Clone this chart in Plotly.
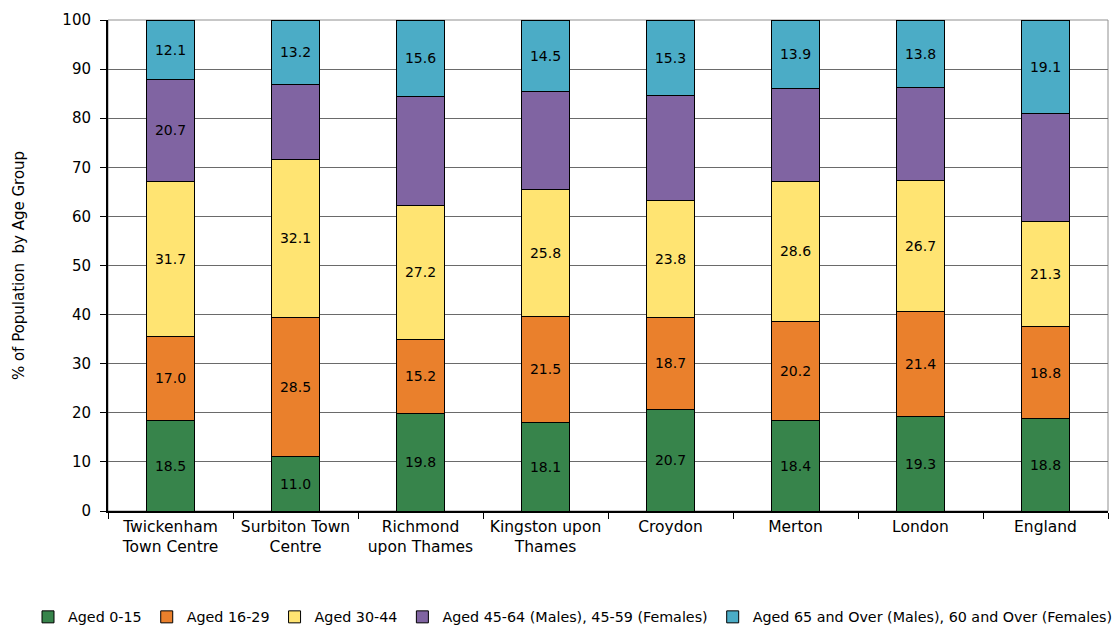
import plotly.graph_objects as go

# Age structure by area (% of population)
areas = [
    "Twickenham<br>Town Centre",
    "Surbiton Town<br>Centre",
    "Richmond<br>upon Thames",
    "Kingston upon<br>Thames",
    "Croydon",
    "Merton",
    "London",
    "England",
]

aged_0_15 = [18.5, 11.0, 19.8, 18.1, 20.7, 18.4, 19.3, 18.8]
aged_16_29 = [17.0, 28.5, 15.2, 21.5, 18.7, 20.2, 21.4, 18.8]
aged_30_44 = [31.7, 32.1, 27.2, 25.8, 23.8, 28.6, 26.7, 21.3]
aged_45_64 = [20.7, 15.2, 22.2, 20.1, 21.5, 18.9, 18.8, 22.0]
aged_65_over = [12.1, 13.2, 15.6, 14.5, 15.3, 13.9, 13.8, 19.1]

# which series carry value labels on every bar
labelled = {
    "Aged 0-15": True,
    "Aged 16-29": True,
    "Aged 30-44": True,
    "Aged 45-64 (Males), 45-59 (Females)": False,
    "Aged 65 and Over (Males), 60 and Over (Females)": True,
}

series = [
    ("Aged 0-15", aged_0_15, "#37844b"),
    ("Aged 16-29", aged_16_29, "#ea802c"),
    ("Aged 30-44", aged_30_44, "#ffe472"),
    ("Aged 45-64 (Males), 45-59 (Females)", aged_45_64, "#8064a2"),
    ("Aged 65 and Over (Males), 60 and Over (Females)", aged_65_over, "#4bacc6"),
]

FONT = "DejaVu Sans"

fig = go.Figure()
for name, vals, colour in series:
    if labelled[name]:
        text = [f"{v:.1f}" for v in vals]
    else:
        # only the first area shows this band's value
        text = [f"{vals[0]:.1f}"] + [""] * (len(vals) - 1)
    fig.add_trace(
        go.Bar(
            name=name,
            x=areas,
            y=vals,
            text=text,
            textposition="inside",
            insidetextanchor="middle",
            textangle=0,
            textfont=dict(family=FONT, size=14, color="#000000"),
            marker=dict(color=colour, line=dict(color="#000000", width=1)),
            hoverinfo="name+y",
        )
    )

fig.update_layout(
    barmode="stack",
    bargap=0.616,
    width=1112,
    height=626,
    margin=dict(l=108, r=4, t=20, b=115, autoexpand=False),
    plot_bgcolor="#ffffff",
    paper_bgcolor="#ffffff",
    font=dict(family=FONT, size=14, color="#000000"),
    uniformtext=dict(minsize=8, mode=False),
    showlegend=True,
    # legend sits below the plot, starting in the left margin so it may span
    # the full width without wrapping
    legend=dict(
        orientation="h",
        xref="paper",
        yref="paper",
        x=-0.08,
        xanchor="left",
        y=-0.216,
        yanchor="middle",
        font=dict(family=FONT, size=14.3, color="#000000"),
        itemwidth=30,
        tracegroupgap=0,
        traceorder="normal",
    ),
    xaxis=dict(
        showline=True,
        linecolor="#000000",
        linewidth=2,
        ticks="outside",
        tickson="boundaries",
        ticklen=6,
        tickcolor="#000000",
        tickfont=dict(family=FONT, size=15.5, color="#000000"),
        showgrid=False,
    ),
    yaxis=dict(
        range=[0, 100],
        dtick=10,
        showline=True,
        linecolor="#000000",
        linewidth=2,
        ticks="outside",
        ticklen=6,
        tickcolor="#000000",
        ticklabelstandoff=6,
        tickfont=dict(family=FONT, size=15, color="#000000"),
        showgrid=True,
        gridcolor="#6a6a6a",
        gridwidth=1,
        zeroline=False,
        title=dict(
            text="% of Population  by Age Group",
            font=dict(family=FONT, size=15, color="#000000"),
            standoff=34,
        ),
    ),
)

# grey frame along the top and right of the plotting area
fig.add_shape(
    type="rect",
    xref="x domain",
    yref="y domain",
    x0=0,
    x1=1,
    y0=0,
    y1=1,
    line=dict(color="#909090", width=1),
    layer="below",
)

fig.write_html("out.html")
